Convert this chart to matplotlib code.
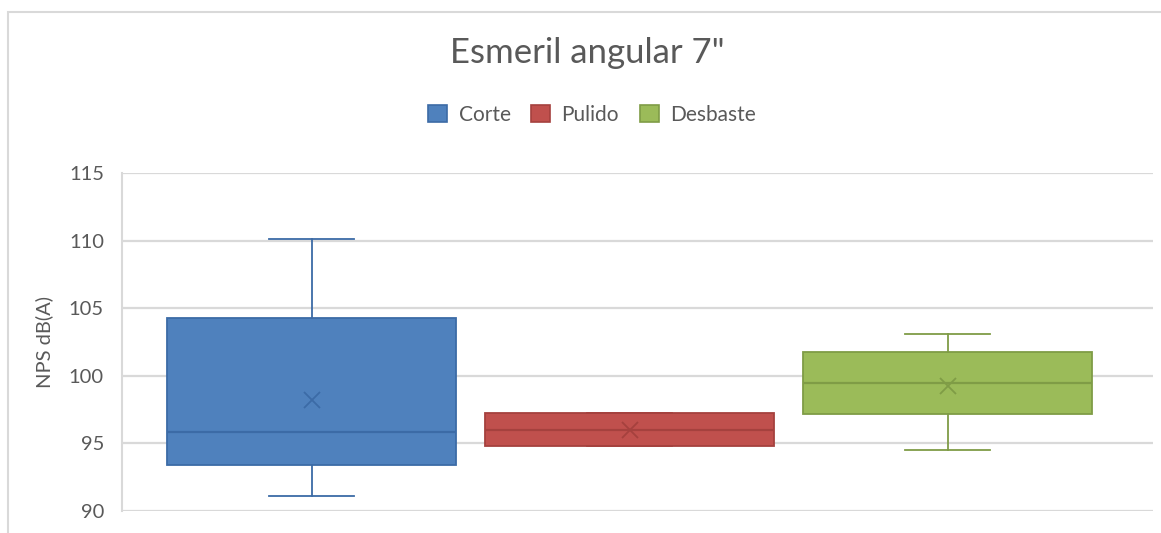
import matplotlib.pyplot as plt
from matplotlib.patches import Patch, Rectangle

plt.rcParams["font.family"] = ["Lato", "DejaVu Sans"]

TITLE = 'Esmeril angular 7"'
Y_LABEL = "NPS dB(A)"

SERIES = ["Corte", "Pulido", "Desbaste"]
FILL_COLORS = ["#4F81BD", "#C0504D", "#9BBB59"]
EDGE_COLORS = ["#3C6BA6", "#A5413E", "#7F9C46"]

# five-number summaries + mean per series (dB(A))
WHIS_LO = [91.1, 94.84, 94.5]
Q1 = [93.4, 94.84, 97.2]
MEDIAN = [95.87, 96.0, 99.5]
Q3 = [104.3, 97.24, 101.77]
WHIS_HI = [110.1, 97.24, 103.1]
MEAN = [98.22, 96.0, 99.28]

Y_TICKS = [90, 95, 100, 105, 110, 115]

TEXT_COLOR = "#595959"
GRID_COLOR = "#D9D9D9"


def build_stats():
    stats = []
    for i, name in enumerate(SERIES):
        stats.append(
            {
                "label": name,
                "whislo": WHIS_LO[i],
                "q1": Q1[i],
                "med": MEDIAN[i],
                "q3": Q3[i],
                "whishi": WHIS_HI[i],
                "mean": MEAN[i],
                "fliers": [],
            }
        )
    return stats


def draw_boxes(ax):
    stats = build_stats()
    for i, st in enumerate(stats):
        edge = EDGE_COLORS[i]
        ax.bxp(
            [st],
            positions=[i + 1],
            widths=0.91,
            capwidths=0.27,
            patch_artist=True,
            showmeans=True,
            showfliers=False,
            boxprops=dict(facecolor=FILL_COLORS[i], edgecolor=edge, linewidth=1.3),
            medianprops=dict(color=edge, linewidth=1.6),
            whiskerprops=dict(color=edge, linewidth=1.3),
            capprops=dict(color=edge, linewidth=1.3),
            meanprops=dict(
                marker="x",
                markersize=12,
                markeredgecolor=edge,
                markeredgewidth=1.3,
            ),
            zorder=3,
        )


fig = plt.figure(figsize=(11.61, 5.33), dpi=100)

# light frame around the chart area
fig.patches.append(
    Rectangle(
        (7.5 / 1161, -0.1),
        1.2,
        1.1 - 11.7 / 533,
        transform=fig.transFigure,
        fill=False,
        edgecolor=GRID_COLOR,
        linewidth=1.5,
    )
)

ax = fig.add_axes([122 / 1161, 22 / 533, 1031 / 1161, 337.7 / 533])
draw_boxes(ax)

ax.set_ylim(90, 115)
ax.set_xlim(0.404, 3.646)
ax.set_yticks(Y_TICKS)
ax.set_yticklabels([str(t) for t in Y_TICKS], fontsize=14.5, color=TEXT_COLOR)
ax.set_xticks([])
ax.tick_params(axis="y", length=0, pad=13)
ax.yaxis.grid(True, color=GRID_COLOR, linewidth=1.6)
ax.set_axisbelow(True)
for side in ["top", "right", "bottom"]:
    ax.spines[side].set_visible(False)
ax.spines["left"].set_color(GRID_COLOR)
ax.spines["left"].set_linewidth(1.5)

ax.set_ylabel(Y_LABEL, fontsize=14.5, color=TEXT_COLOR, labelpad=11)

fig.text(
    0.506,
    1 - 63.3 / 533,
    TITLE,
    ha="center",
    va="baseline",
    fontsize=25,
    color=TEXT_COLOR,
)

handles = [
    Patch(facecolor=FILL_COLORS[i], edgecolor=EDGE_COLORS[i], linewidth=1.2, label=name)
    for i, name in enumerate(SERIES)
]
fig.legend(
    handles=handles,
    loc="center",
    bbox_to_anchor=(0.51, 1 - 115 / 533),
    ncol=3,
    frameon=False,
    fontsize=15,
    labelcolor=TEXT_COLOR,
    handlelength=0.9,
    handleheight=0.9,
    handletextpad=0.55,
    columnspacing=1.0,
)

fig.savefig("out.png", dpi=100)
